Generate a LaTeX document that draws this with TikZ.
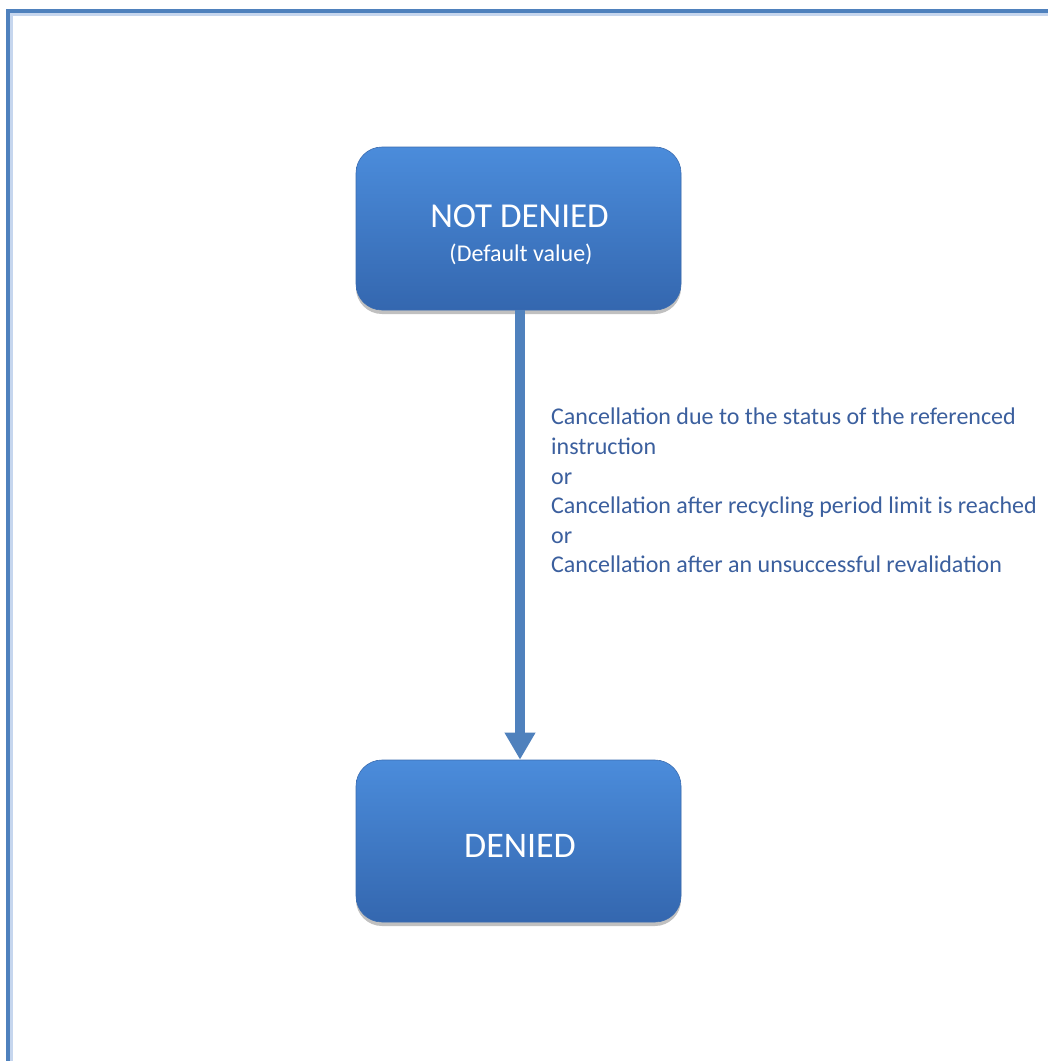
\documentclass[tikz,border=0pt]{standalone}
\usepackage{fontspec}
\setmainfont{Carlito}
\usetikzlibrary{arrows.meta,shadows}
\definecolor{framecol}{HTML}{4F81BD}
\definecolor{framelight}{HTML}{C6D6EE}
\definecolor{boxtop}{HTML}{4B8CDB}
\definecolor{boxbot}{HTML}{3467AF}
\definecolor{boxedge}{HTML}{3A6CB0}
\definecolor{arrowcol}{HTML}{4F81BD}
\definecolor{labelcol}{HTML}{3B5F9E}
\tikzset{
  statebox/.style={rectangle, rounded corners=26pt, minimum width=325pt,
    inner sep=0pt, top color=boxtop, bottom color=boxbot, draw=boxedge,
    line width=0.6pt,
    drop shadow={shadow xshift=0pt, shadow yshift=-4pt, opacity=0.35, fill=black!70}},
  boxtext/.style={text=white, inner sep=0pt, anchor=base},
  flow/.style={draw=arrowcol, line width=9.5pt,
    -{Triangle[width=29pt,length=27pt]}},
  lbl/.style={text=labelcol, align=left, inner sep=0pt, anchor=north west,
    font=\fontsize{24}{29.6}\selectfont}
}
\begin{document}
\begin{tikzpicture}[x=1pt,y=-1pt]
\useasboundingbox (0,0) rectangle (1048,1061);
\fill[white] (0,0) rectangle (1048,1061);
% frame
\draw[framelight, line width=3pt] (11.5,12.5) -- (11.5,1070);
\draw[framelight, line width=3pt] (11.5,14) -- (1060,14);
\draw[framecol, line width=4pt] (8,1070) -- (8,11) -- (1060,11);
% states
\node[statebox, minimum height=163pt] (nd) at (518.5,228.5) {};
\node[boxtext, font=\fontsize{35}{40}\selectfont] (ndt) at (519.5,227) {NOT DENIED};
\node[boxtext, font=\fontsize{24}{28}\selectfont] (ndv) at (521,261) {(Default value)};
\node[statebox, minimum height=162pt] (d) at (518.5,841) {};
\node[boxtext, font=\fontsize{36}{40}\selectfont] (dt) at (520,857) {DENIED};
\draw[flow] (nd.south -| 520,0) -- (d.north -| 520,0);
\node[lbl] (lab) at (551,408) {Cancellation due to the status of the referenced\\
instruction\\
or\\
Cancellation after recycling period limit is reached\\
or\\
Cancellation after an unsuccessful revalidation};
\end{tikzpicture}
\end{document}
